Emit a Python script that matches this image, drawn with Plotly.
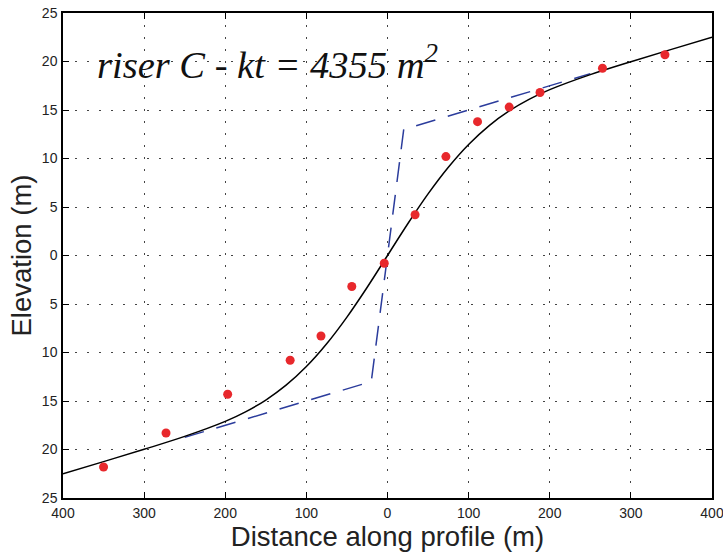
import plotly.graph_objects as go

# Measured profile points (distance along profile, elevation)
dist_obs = [-350, -273, -197, -120, -82, -44, -4, 34, 72, 111, 150, 188, 265, 342]
elev_obs = [-21.8, -18.3, -14.3, -10.8, -8.3, -3.2, -0.8, 4.2, 10.2, 13.8, 15.3, 16.8, 19.3, 20.7]

# Best-fit diffused profile
fit_x = [-400, -350, -300, -250, -200, -175, -150, -125, -100, -75, -50, -25, 0,
         25, 50, 75, 100, 125, 150, 175, 200, 250, 300, 350, 400]
fit_y = [-22.5, -21.25, -19.98, -18.65, -17.10, -16.12, -14.90, -13.37, -11.45, -9.10, -6.35, -3.27, 0.0,
         3.27, 6.35, 9.10, 11.45, 13.37, 14.90, 16.12, 17.10, 18.65, 19.98, 21.25, 22.5]

# Initial (undegraded) riser geometry
init_x = [-250, -20, 20, 250]
init_y = [-18.75, -13.0, 13.0, 18.75]

x_ticks = [-400, -300, -200, -100, 0, 100, 200, 300, 400]
x_tick_text = ["400", "300", "200", "100", "0", "100", "200", "300", "400"]
y_ticks = [-25, -20, -15, -10, -5, 0, 5, 10, 15, 20, 25]
y_tick_text = ["25", "20", "15", "10", "5", "0", "5", "10", "15", "20", "25"]

label = "<i>riser C - kt = 4355 m<sup>2</sup></i>"

SANS = "Liberation Sans, Arial, sans-serif"

fig = go.Figure()
fig.add_trace(go.Scatter(
    x=init_x, y=init_y, mode="lines",
    line=dict(color="#2b3c9c", width=1.5, dash="20px,13px"),
    showlegend=False, hoverinfo="skip"))
fig.add_trace(go.Scatter(
    x=fit_x, y=fit_y, mode="lines", line_shape="spline",
    line=dict(color="black", width=1.5),
    showlegend=False))
fig.add_trace(go.Scatter(
    x=dist_obs, y=elev_obs, mode="markers",
    marker=dict(color="#e8282c", size=9, line=dict(width=0)),
    showlegend=False))

axis_common = dict(
    showline=True, linecolor="black", linewidth=1.5, mirror="ticks",
    ticks="inside", ticklen=6, tickwidth=1, tickcolor="black",
    showgrid=True, gridcolor="#444444", gridwidth=1, griddash="2px,10px",
    zeroline=False, automargin=False, ticklabeloverflow="allow",
    tickfont=dict(family=SANS, size=14, color="#222"),
)

fig.update_xaxes(
    range=[-400, 400], tickvals=x_ticks, ticktext=x_tick_text,
    title=dict(text="Distance along profile (m)",
               font=dict(family=SANS, size=27.5, color="#222"),
               standoff=0),
    ticklabelstandoff=1,
    **axis_common)
fig.update_yaxes(
    range=[-25, 25], tickvals=y_ticks, ticktext=y_tick_text,
    title=dict(text="Elevation (m)",
               font=dict(family=SANS, size=27.5, color="#222"),
               standoff=2),
    ticklabelstandoff=1,
    **axis_common)

fig.add_annotation(
    x=-361, y=20, xref="x", yref="y", text=label, showarrow=False,
    xanchor="left", yanchor="middle",
    font=dict(family="Liberation Serif, Times New Roman, serif", size=38.5, color="#111"),
)

fig.update_layout(
    width=723, height=560,
    margin=dict(l=63, r=11, t=13, b=62),
    paper_bgcolor="white", plot_bgcolor="white",
)

fig.write_html("out.html")
